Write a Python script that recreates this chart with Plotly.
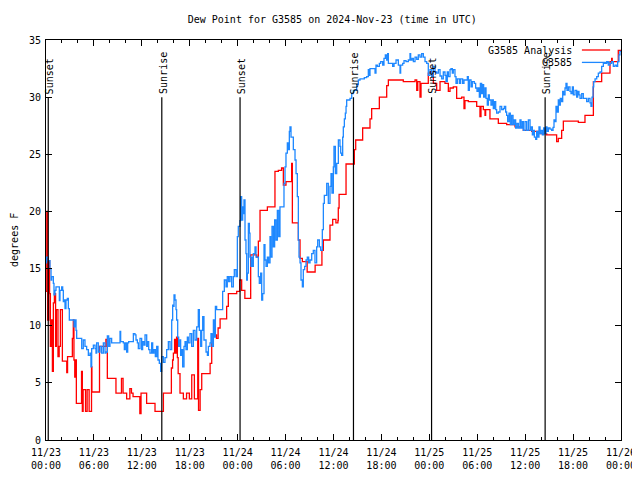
import pandas as pd
import plotly.graph_objects as go

# ---------------- data ----------------
base_time = "2024-11-23 00:00"
title_text = "Dew Point for G3585 on 2024-Nov-23 (time in UTC)"

# G3585 Analysis (hours after base, degrees F)
analysis_hours = [0.00, 0.10, 0.20, 0.35, 0.45, 0.55, 0.65, 0.80, 0.92, 1.05, 1.20, 1.30, 1.50, 1.65, 1.80, 2.05, 2.60, 2.70, 3.30, 3.42, 3.50, 3.60, 3.68, 3.80, 4.45, 4.55, 4.65, 4.95, 5.15, 5.40, 5.70, 5.75, 6.70, 7.50, 7.68, 8.76, 9.45, 9.65, 10.10, 10.50, 10.70, 10.90, 11.75, 11.90, 12.60, 13.65, 14.70, 15.70, 15.85, 15.95, 16.10, 16.20, 16.35, 16.45, 16.55, 16.78, 17.20, 17.60, 17.95, 18.25, 18.58, 19.00, 19.10, 19.30, 19.50, 20.55, 20.75, 21.35, 21.55, 21.80, 22.62, 22.83, 23.88, 24.25, 24.50, 24.90, 25.63, 26.38, 26.59, 26.80, 27.72, 28.67, 29.09, 29.50, 29.72, 30.05, 30.76, 30.85, 31.60, 31.81, 32.10, 32.70, 33.70, 34.55, 34.73, 35.56, 35.90, 36.30, 36.55, 36.60, 36.70, 37.57, 38.61, 38.78, 39.65, 40.57, 40.78, 41.74, 42.66, 42.87, 44.74, 46.21, 46.42, 46.55, 46.83, 46.96, 47.87, 48.08, 48.29, 48.50, 48.92, 49.34, 49.96, 50.38, 50.59, 51.00, 51.42, 52.05, 52.34, 52.46, 52.88, 53.93, 54.34, 54.47, 54.76, 54.97, 55.05, 55.59, 56.64, 57.68, 58.73, 59.77, 60.82, 61.86, 62.69, 63.94, 64.15, 64.57, 64.78, 66.66, 67.49, 68.54, 69.58, 70.62, 70.83, 70.90, 71.66, 72.00]
analysis_vals = [13.0, 20.0, 10.5, 15.7, 12.8, 8.2, 10.5, 6.0, 12.0, 12.8, 8.2, 11.4, 7.3, 8.2, 11.4, 6.9, 5.9, 7.3, 8.9, 10.5, 7.0, 5.5, 7.0, 3.2, 6.0, 2.5, 4.4, 2.5, 4.4, 2.5, 6.4, 4.2, 8.2, 8.8, 5.4, 4.1, 5.4, 4.1, 3.6, 4.5, 4.1, 3.8, 2.3, 4.1, 3.2, 2.5, 4.1, 6.3, 7.0, 7.6, 8.8, 7.6, 9.0, 7.2, 5.8, 4.1, 3.6, 4.1, 3.6, 5.7, 3.6, 8.9, 2.6, 4.4, 5.8, 6.7, 9.2, 8.9, 9.8, 10.6, 11.7, 12.8, 13.0, 14.0, 13.1, 12.4, 16.2, 16.0, 17.4, 20.1, 20.4, 23.5, 23.6, 23.8, 22.3, 22.6, 24.2, 19.0, 17.5, 15.9, 15.6, 14.7, 15.3, 16.6, 17.5, 18.8, 19.3, 19.0, 19.2, 20.3, 21.5, 24.15, 25.4, 26.25, 27.3, 28.1, 29.0, 30.0, 31.0, 31.5, 31.35, 31.5, 30.6, 31.35, 30.0, 31.2, 32.1, 32.2, 31.9, 31.2, 30.6, 31.35, 31.2, 30.5, 30.8, 30.9, 29.9, 30.0, 29.0, 29.7, 29.6, 29.2, 28.3, 29.2, 28.9, 28.4, 28.9, 28.1, 27.7, 27.6, 27.4, 27.1, 27.0, 26.8, 26.7, 26.1, 26.4, 27.1, 27.9, 27.8, 28.4, 31.35, 32.1, 33.1, 33.4, 33.1, 34.1, 34.1]

# G3585 observations (hours after base, degrees F)
obs_hours = [0.00, 0.08, 0.29, 0.50, 0.63, 0.71, 0.92, 1.00, 1.13, 1.25, 1.54, 1.67, 1.75, 1.96, 2.09, 2.17, 2.30, 2.38, 2.50, 2.67, 2.80, 2.92, 3.21, 3.42, 3.51, 3.63, 3.76, 3.84, 4.26, 4.47, 4.67, 4.88, 5.09, 5.30, 5.51, 5.63, 5.72, 5.93, 6.14, 6.26, 6.34, 6.55, 6.76, 6.97, 7.18, 7.39, 7.51, 7.68, 7.85, 8.01, 8.22, 9.18, 9.27, 9.35, 9.68, 9.81, 9.93, 10.10, 10.23, 10.35, 10.52, 10.94, 11.14, 11.27, 11.44, 11.56, 11.77, 11.98, 12.10, 12.27, 12.40, 12.61, 12.69, 12.86, 13.02, 13.23, 13.36, 13.52, 13.69, 13.86, 14.02, 14.19, 14.36, 14.48, 14.69, 14.90, 15.11, 15.32, 15.53, 15.74, 15.86, 15.94, 16.03, 16.15, 16.28, 16.36, 16.49, 16.61, 16.78, 16.86, 16.99, 17.11, 17.28, 17.41, 17.53, 17.70, 17.82, 18.03, 18.24, 18.45, 18.66, 18.87, 19.07, 19.20, 19.37, 19.49, 19.62, 19.78, 20.04, 20.21, 20.33, 20.54, 20.66, 20.79, 20.96, 21.08, 21.21, 21.37, 21.71, 22.00, 22.12, 22.33, 22.54, 22.70, 22.87, 23.04, 23.25, 23.46, 23.58, 23.79, 23.96, 24.08, 24.29,
             24.38, 24.50, 24.63, 24.71, 24.79, 24.92, 25.04, 25.13, 25.21, 25.34, 25.46, 25.54, 25.67, 25.75, 25.88, 25.96, 26.17, 26.30, 26.46, 26.59, 26.71, 26.88, 27.01, 27.13, 27.30, 27.42, 27.55, 27.72, 27.88, 28.05, 28.13, 28.30, 28.47, 28.63, 28.80, 28.97, 29.14, 29.30, 29.72, 29.80, 29.93, 30.05, 30.22, 30.34, 30.47, 30.55, 30.68, 30.80, 30.97, 31.18, 31.31, 31.47, 31.60, 31.68, 31.81, 31.93, 32.10, 32.22, 32.39, 32.56, 32.72, 32.89, 33.06, 33.27, 33.47, 33.68, 33.89, 34.02, 34.23, 34.39, 34.60, 34.73, 34.85,
             35.15, 35.35, 35.56, 35.69, 35.81, 35.98, 36.06, 36.23, 36.40, 36.61, 36.81, 36.90, 37.02, 37.15, 37.23, 37.36, 37.48, 37.57, 37.65, 38.07, 38.28, 38.48, 38.90, 39.11, 39.32, 39.86, 40.15, 40.36, 40.49, 40.57, 41.20, 41.32, 41.49, 41.74, 41.91, 42.16, 42.32, 42.49, 42.66, 42.78, 42.87, 43.28, 43.41, 43.58, 43.83, 44.12, 44.33, 44.41, 44.66, 44.83, 45.08, 45.37, 45.58, 45.66, 45.83, 46.00, 46.21, 46.42, 46.62, 46.83, 47.04, 47.25, 47.46, 47.67, 47.87, 48.08, 48.29, 48.50, 48.71, 48.92, 49.13, 49.34, 49.55, 49.75, 49.96, 50.09, 50.25, 50.38, 50.59, 50.71, 50.88, 51.00, 51.21, 51.34, 51.51, 51.76, 51.92, 52.17, 52.34, 52.59, 52.76, 52.88, 53.01,
             53.22, 53.38, 53.63, 53.80, 53.97, 54.14, 54.26, 54.39, 54.55, 54.68, 54.80, 54.97, 55.10, 55.26, 55.39, 55.51, 55.72, 55.89, 56.01, 56.14, 56.31, 56.43, 56.64, 56.85, 57.06, 57.27, 57.39, 57.56, 57.68, 57.81, 57.98, 58.14, 58.31, 58.48, 58.64, 58.81, 58.98, 59.15, 59.35, 59.48, 59.65, 59.77, 59.98, 60.19, 60.40, 60.61, 60.73, 60.90, 61.02, 61.15, 61.32, 61.44, 61.57, 61.73, 61.86, 61.98, 62.15, 62.32, 62.48, 62.61, 62.73, 62.90, 63.11, 63.32, 63.49, 63.61, 63.74, 63.86, 63.99, 64.15, 64.28, 64.40, 64.57, 64.70, 64.82, 64.99, 65.11, 65.24, 65.41, 65.61, 65.74, 65.91, 66.03, 66.24, 66.45, 66.58, 66.74, 66.87, 67.08, 67.28, 67.49, 67.70, 67.91, 68.12, 68.24, 68.37, 68.50, 68.58, 68.75, 68.96, 69.16, 69.37, 69.58, 69.79, 70.00, 70.21, 70.41, 70.62, 70.83, 71.04, 71.25, 71.46, 71.58, 71.75, 71.87, 72.00]
obs_vals = [15.5, 16.0, 15.7, 15.0, 14.0, 14.3, 13.7, 12.7, 13.1, 13.4, 13.4, 12.2, 13.1, 13.4, 13.1, 12.1, 12.25, 11.5, 12.25, 12.4, 11.5, 10.5, 10.5, 10.5, 9.9, 10.5, 9.6, 8.9, 8.9, 8.0, 8.75, 8.2, 7.9, 7.4, 7.6, 6.4, 8.0, 8.3, 8.0, 7.6, 8.5, 7.7, 8.2, 7.6, 8.5, 7.6, 7.7, 9.1, 8.2, 8.9, 8.5, 8.5, 9.5, 8.6, 8.5, 7.9, 8.5, 7.7, 8.5, 8.6, 8.6, 9.3, 9.2, 8.75, 8.5, 8.0, 8.9, 7.9, 8.6, 8.3, 9.2, 8.2, 8.6, 7.9, 7.6, 8.5, 7.6, 7.9, 7.3, 8.2, 7.0, 6.7, 6.0, 7.3, 6.8, 7.2, 7.9, 8.6, 7.9, 10.5, 11.8, 11.7, 12.7, 12.25, 11.4, 10.5, 9.0, 8.2, 8.75, 7.4, 7.9, 6.4, 8.2, 8.6, 7.9, 9.0, 8.5, 9.3, 8.2, 9.6, 8.75, 9.9, 11.4, 9.6, 8.2, 9.6, 10.8, 8.75, 7.7, 7.4, 8.2, 8.5, 9.3, 8.2, 10.5, 9.0, 11.7, 11.4, 11.4, 11.4, 13.0, 14.0, 13.4, 14.3, 13.85, 14.3, 13.4, 14.3, 14.9, 14.3, 17.8, 18.7, 19.2,
            21.3, 19.25, 20.4, 19.8, 21.0, 17.5, 16.3, 14.0, 14.6, 18.96, 18.1, 16.0, 15.2, 16.0, 15.2, 16.3, 16.9, 16.0, 16.0, 14.3, 13.7, 14.6, 12.25, 12.8, 17.1, 15.75, 15.2, 16.0, 15.5, 17.8, 16.0, 18.7, 16.9, 19.25, 17.5, 20.1, 17.8, 20.4, 20.4, 22.45, 23.9, 25.1, 26.0, 25.4, 27.0, 27.4, 26.5, 26.5, 25.4, 24.5, 23.3, 21.3, 17.5, 16.0, 15.5, 14.0, 13.4, 14.9, 15.2, 15.75, 16.0, 15.5, 15.75, 16.3, 16.6, 15.5, 16.9, 17.5, 16.9, 16.6, 18.4, 20.7, 21.4,
            22.45, 20.7, 22.2, 23.3, 21.6, 23.9, 25.7, 23.3, 24.2, 26.25, 25.7, 25.1, 24.9, 26.5, 27.4, 28.1, 28.6, 29.2, 29.75, 29.9, 30.3, 30.6, 31.1, 31.5, 31.6, 31.7, 31.8, 32.4, 31.9, 32.5, 32.1, 32.8, 32.7, 32.95, 33.1, 32.8, 33.4, 33.7, 33.25, 33.8, 32.95, 32.95, 32.7, 32.95, 33.25, 32.8, 32.1, 32.8, 32.95, 33.2, 33.1, 33.25, 33.8, 33.25, 33.4, 33.1, 33.5, 33.3, 33.7, 33.5, 33.8, 33.5, 33.1, 32.95, 31.9, 32.4, 31.8, 32.7, 32.2, 32.1, 32.4, 31.85, 31.6, 32.2, 31.9, 31.35, 32.2, 31.8, 32.4, 32.5, 32.1, 32.4, 31.8, 31.2, 31.6, 31.2, 31.6, 31.2, 31.5, 31.5, 31.8, 30.6, 31.5,
            30.9, 31.35, 31.2, 30.8, 30.5, 30.8, 30.0, 31.2, 30.3, 31.1, 30.0, 30.8, 29.9, 29.3, 30.2, 29.75, 29.3, 29.75, 29.0, 29.6, 28.9, 28.6, 28.7, 29.2, 28.9, 29.0, 29.2, 28.7, 28.4, 27.85, 28.6, 27.6, 28.4, 27.6, 28.0, 27.3, 27.7, 27.3, 28.0, 27.3, 27.85, 27.1, 27.85, 27.1, 28.0, 27.1, 27.4, 26.7, 27.1, 26.5, 26.3, 27.0, 26.5, 27.4, 26.8, 27.1, 26.7, 27.3, 26.8, 27.4, 27.0, 27.3, 27.2, 27.1, 27.35, 28.0, 27.85, 29.2, 28.7, 29.75, 29.3, 29.9, 29.6, 30.5, 30.2, 30.8, 31.2, 30.6, 30.9, 30.5, 30.3, 30.9, 30.2, 30.6, 30.0, 30.5, 30.2, 29.9, 30.3, 29.9, 29.9, 29.6, 29.9, 29.5, 29.2, 30.0, 30.9, 31.35, 31.6, 31.8, 32.1, 32.2, 32.7, 32.95, 32.95, 33.1, 32.8, 32.95, 33.1, 32.7, 32.8, 32.7, 33.1, 33.7, 34.0, 34.0]

# sunrise / sunset events (hours after base)
event_hours = [0.28, 14.5, 24.3, 38.5, 48.28, 62.5]
event_labels = ["Sunset", "Sunrise", "Sunset", "Sunrise", "Sunset", "Sunrise"]
event_line_top = 30

series_names = ["G3585 Analysis", "G3585"]
series_colors = ["#ff0000", "#1e88ff"]
y_label = "degrees F"

# ---------------- figure ----------------
t0 = pd.Timestamp(base_time)


def to_time(hours):
    return [t0 + pd.to_timedelta(h, unit="h") for h in hours]


FONT = "DejaVu Sans Mono"
fig = go.Figure()
fig.add_trace(go.Scatter(x=to_time(analysis_hours), y=analysis_vals, mode="lines",
                         line=dict(color=series_colors[0], width=1.3, shape="hv"),
                         name=series_names[0], showlegend=False))
fig.add_trace(go.Scatter(x=to_time(obs_hours), y=obs_vals, mode="lines",
                         line=dict(color=series_colors[1], width=1.3, shape="hv"),
                         name=series_names[1], showlegend=False))

for h, lab in zip(event_hours, event_labels):
    t = t0 + pd.to_timedelta(h, unit="h")
    fig.add_shape(type="line", xref="x", yref="y", x0=t, x1=t, y0=0, y1=event_line_top,
                  line=dict(color="black", width=1.2))
    fig.add_annotation(x=t, y=event_line_top, xref="x", yref="y", text=lab,
                       textangle=-90, showarrow=False, xanchor="center", yanchor="bottom",
                       yshift=1, xshift=1, font=dict(family=FONT, size=10, color="black"))

# legend (text on the left, sample line on the right)
leg_y = [0.975, 0.944]
for name, col, yy in zip(series_names, series_colors, leg_y):
    fig.add_annotation(x=0.918, y=yy, xref="paper", yref="paper", text=name,
                       showarrow=False, xanchor="right", yanchor="middle",
                       font=dict(family=FONT, size=10, color="black"))
    fig.add_shape(type="line", xref="paper", yref="paper", x0=0.932, x1=0.981,
                  y0=yy, y1=yy, line=dict(color=col, width=1.3))

fig.add_annotation(x=-0.0557, y=0.5, xref="paper", yref="paper", text=y_label,
                   textangle=-90, showarrow=False, xanchor="center", yanchor="middle",
                   font=dict(family=FONT, size=10, color="black"))

# the page body adds an 8px offset, so the figure is 632x472 with margins adjusted
fig.update_layout(
    width=632, height=472,
    margin=dict(l=38, r=19, t=32, b=40),
    paper_bgcolor="white", plot_bgcolor="white",
    font=dict(family=FONT, size=10, color="black"),
    title=dict(text=title_text, x=0.513, xanchor="center", y=0.975, yanchor="middle",
               font=dict(family=FONT, size=10, color="black")),
    showlegend=False,
)
fig.update_xaxes(
    type="date", automargin=False,
    range=[t0, t0 + pd.Timedelta(hours=72)],
    tick0=t0, dtick=6 * 3600 * 1000,
    tickformat="%m/%d<br>%H:%M",
    ticks="inside", ticklen=6, tickcolor="black", tickwidth=1,
    ticklabelstandoff=3,
    minor=dict(dtick=2 * 3600 * 1000, ticks="inside", ticklen=3, tickcolor="black", showgrid=False),
    showline=True, linecolor="black", linewidth=1, mirror="ticks",
    showgrid=False, zeroline=False,
    tickfont=dict(family=FONT, size=10, color="black"),
)
fig.update_yaxes(
    automargin=False,
    range=[0, 35], tick0=0, dtick=5,
    ticks="inside", ticklen=6, tickcolor="black", tickwidth=1,
    ticklabelstandoff=2,
    showline=True, linecolor="black", linewidth=1, mirror="ticks",
    showgrid=False, zeroline=False,
    tickfont=dict(family=FONT, size=10, color="black"),
)

fig.write_html("out.html")
